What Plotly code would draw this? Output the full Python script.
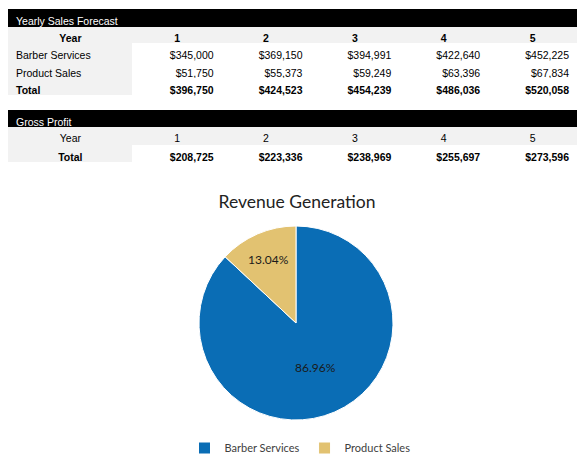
import plotly.graph_objects as go

YEARS = [1, 2, 3, 4, 5]
BARBER_SERVICES = [345000, 369150, 394991, 422640, 452225]
PRODUCT_SALES = [51750, 55373, 59249, 63396, 67834]
TOTAL_SALES = [396750, 424523, 454239, 486036, 520058]
GROSS_PROFIT = [208725, 223336, 238969, 255697, 273596]

PIE_LABELS = ['Barber Services', 'Product Sales']
PIE_VALUES = [BARBER_SERVICES[0], PRODUCT_SALES[0]]

GREY = '#f2f2f2'
WHITE = '#ffffff'
TABLE_FONT = 'Liberation Sans, Arial, sans-serif'
CHART_FONT = 'Lato, Noto Sans, sans-serif'
W, H = 585, 464
OFF = 8   # the page body adds an 8px margin, so place everything 8px up/left

col_widths = [125, 89, 89, 89, 89, 89]
NCOL = len(YEARS) + 1


def money(v):
    return f'${v:,}'


def xdom(left, right):
    return [max(0, (left - OFF) / W), min(1, (right - OFF) / W)]


def ydom(top, bottom):
    # pixel rows of the screenshot -> paper fraction
    return [max(0, 1 - (bottom - OFF) / H), min(1, 1 - (top - OFF) / H)]


def row(values, fill, align, weight, height, color='black'):
    return dict(
        values=values, fill_color=fill, align=align, height=height,
        line=dict(color=fill, width=1),
        font=dict(family=TABLE_FONT, size=10.5, color=color, weight=weight),
    )


def dummy():
    return row([['']] * NCOL, WHITE, 'left', 'normal', 1)


def table(top, bottom, header, cells):
    return go.Table(
        domain=dict(x=xdom(8, 577), y=ydom(top, bottom)),
        columnwidth=col_widths, header=header, cells=cells,
    )


lab_fill = [GREY] + [WHITE] * len(YEARS)
num_align = ['left'] + ['right'] * len(YEARS)

fig = go.Figure()

# Yearly sales forecast
fig.add_trace(table(
    9, 46,
    row(['Yearly Sales Forecast'] + [''] * len(YEARS), 'black', 'left',
        'normal', 17, color='white'),
    row([['Year']] + [[str(y)] for y in YEARS], GREY, 'center', 'bold', 17),
))
fig.add_trace(table(
    43, 80,
    row(['Barber Services'] + [money(v) for v in BARBER_SERVICES],
        lab_fill, num_align, 'normal', 18),
    row([['Product Sales']] + [[money(v)] for v in PRODUCT_SALES],
        lab_fill, num_align, 'normal', 17),
))
fig.add_trace(table(
    78, 97,
    row(['Total'] + [money(v) for v in TOTAL_SALES],
        lab_fill, num_align, 'bold', 16),
    dummy(),
))

# Gross profit
fig.add_trace(table(
    110, 146,
    row(['Gross Profit'] + [''] * len(YEARS), 'black', 'left',
        'normal', 16, color='white'),
    row([['Year']] + [[str(y)] for y in YEARS], GREY, 'center', 'normal', 19),
))
fig.add_trace(table(
    145, 164,
    row(['Total'] + [money(v) for v in GROSS_PROFIT],
        lab_fill, ['center'] + ['right'] * len(YEARS), 'bold', 16),
    dummy(),
))

fig.add_trace(go.Pie(
    labels=PIE_LABELS, values=PIE_VALUES,
    sort=False, direction='clockwise', rotation=0,
    marker=dict(colors=['#0a6db5', '#e2c271'],
                line=dict(color='#ffffff', width=1)),
    texttemplate='%{percent:.2%}', textposition='inside',
    insidetextfont=dict(family=CHART_FONT, size=12, color='#1a1a1a'),
    domain=dict(x=xdom(160, 432), y=ydom(226, 420)),
    hoverinfo='label+value+percent',
))

fig.update_layout(
    width=W, height=H,
    margin=dict(l=0, r=0, t=0, b=0),
    paper_bgcolor='white',
    title=dict(text='Revenue Generation', x=(297 - OFF) / W, xanchor='center',
               y=1 - (202 - OFF) / H, yanchor='middle',
               font=dict(family=CHART_FONT, size=17.5, color='#222222')),
    legend=dict(orientation='h', x=(300 - OFF) / W, xanchor='center',
                y=1 - (448 - OFF) / H, yanchor='middle',
                font=dict(family=CHART_FONT, size=11, color='#404040')),
)

fig.write_html('out.html')
